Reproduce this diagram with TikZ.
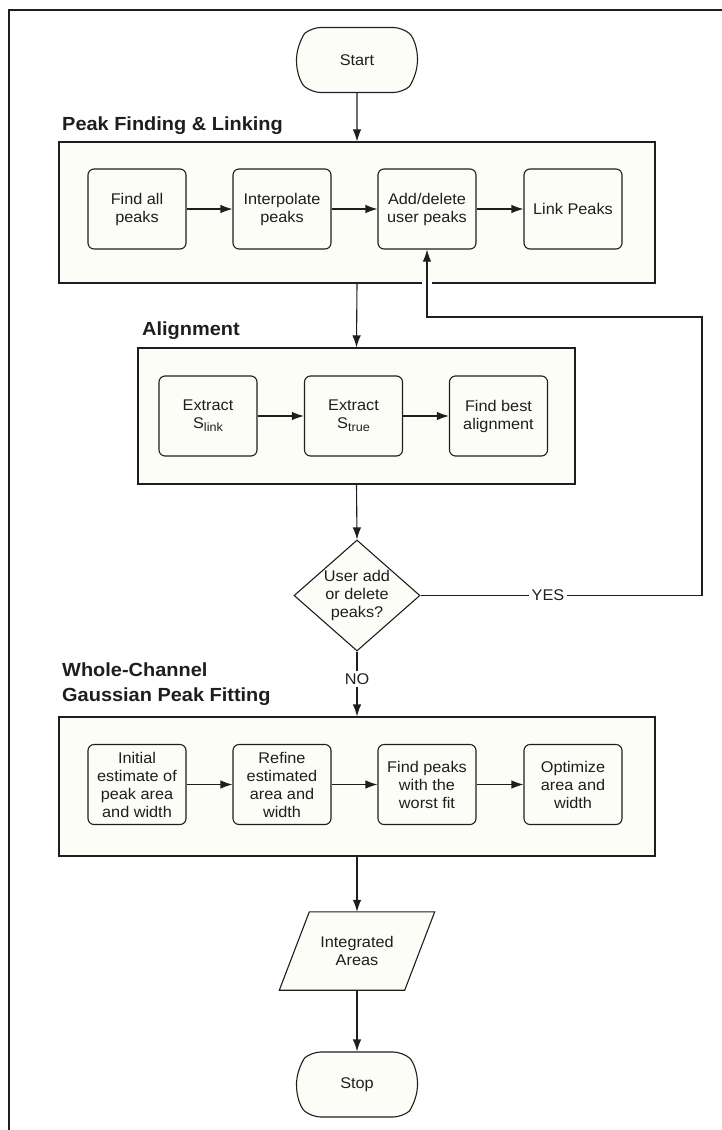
\documentclass[tikz,border=0pt]{standalone}
\usepackage{fontspec}
\setmainfont[FakeStretch=1.05]{Liberation Sans}
\usetikzlibrary{arrows.meta,shapes.geometric,shapes.misc,backgrounds}
\definecolor{cream}{RGB}{253,253,248}
\definecolor{ink}{RGB}{30,30,30}
\newcommand{\sbs}[1]{\raisebox{-0.4ex}{\fontsize{12}{12}\selectfont #1}}
\begin{document}
\begin{tikzpicture}[x=1pt,y=-1pt,
  every node/.style={font=\fontsize{15.5}{18}\selectfont, text=ink},
  grp/.style={draw=ink, fill=cream, line width=1.1pt, inner sep=0pt},
  proc/.style={draw=ink, fill=cream, line width=1.1pt, rounded corners=6pt,
    minimum width=98pt, minimum height=80pt, inner sep=0pt, align=center},
  term/.style={draw=ink, fill=cream, line width=1.1pt, rounded rectangle,
    rounded rectangle arc length=100, rounded corners=9pt,
    minimum width=121pt, minimum height=65pt, inner sep=0pt},
  dec/.style={draw=ink, fill=cream, line width=1.1pt, diamond, aspect=1.13,
    minimum width=126pt, minimum height=111pt, inner sep=0pt, align=center},
  iobox/.style={minimum width=125pt, minimum height=78pt, inner sep=0pt, align=center},
  ttl/.style={font=\bfseries\fontsize{19}{25}\selectfont, inner sep=0pt, align=left},
  lbl/.style={fill=white, inner sep=3pt},
  arr/.style={draw=ink, line width=1.1pt, -{Latex[length=12pt,width=8.5pt]}},
  ln/.style={draw=ink, line width=1.1pt}
]
\path[use as bounding box] (0,0) rectangle (721,1130);
\draw[ink, line width=1.8pt] (9,1135) -- (9,10) -- (725,10);

% titles
\node[ttl, anchor=base west] (t1) at (62,130) {Peak Finding \& Linking};
\node[ttl, anchor=base west] (t2) at (142,335) {Alignment};
\node[ttl, anchor=north west] (t3) at (62,663) {Whole-Channel\\Gaussian Peak Fitting};

% containers
\node[grp, minimum width=596pt, minimum height=141pt] (g1) at (357,212.5) {};
\node[grp, minimum width=437pt, minimum height=136pt] (g2) at (356.5,416) {};
\node[grp, minimum width=596pt, minimum height=139pt] (g3) at (357,786.5) {};

% terminals
\node[term] (start) at (357,60) {Start};
\node[term] (stop) at (357,1084.5) {Stop};

% row 1
\node[proc] (a1) at (137,209) {Find all\\peaks};
\node[proc] (a2) at (282,209) {Interpolate\\peaks};
\node[proc] (a3) at (427,209) {Add/delete\\user peaks};
\node[proc] (a4) at (573,209) {Link Peaks};

% row 2
\node[proc] (b1) at (208,416) {Extract\\S\sbs{link}};
\node[proc] (b2) at (353.5,416) {Extract\\S\sbs{true}};
\node[proc] (b3) at (498.5,416) {Find best\\alignment};

% decision
\node[dec] (dia) at (357,595.5) {User add\\or delete\\peaks?};

% row 3
\node[proc] (c1) at (137,784.5) {Initial\\estimate of\\peak area\\and width};
\node[proc] (c2) at (282,784.5) {Refine\\estimated\\area and\\width};
\node[proc] (c3) at (427,784.5) {Find peaks\\with the\\worst fit};
\node[proc] (c4) at (573,784.5) {Optimize\\area and\\width};

% output (parallelogram)
\node[iobox] (out) at (357,951) {Integrated\\Areas};
\begin{scope}[on background layer]
\draw[draw=ink, fill=cream, line width=1.1pt]
  ([xshift=15pt]out.north west) -- ([xshift=15pt]out.north east)
  -- ([xshift=-15pt]out.south east) -- ([xshift=-15pt]out.south west) -- cycle;
\end{scope}

% connectors
\draw[arr] (start) -- (g1);
\draw[arr] (a1) -- (a2);
\draw[arr] (a2) -- (a3);
\draw[arr] (a3) -- (a4);
\draw[arr] (g1.south) -- (g2.north);
\draw[arr] (b1) -- (b2);
\draw[arr] (b2) -- (b3);
\draw[arr] (g2.south) -- (dia.north);
\draw[arr] (dia.south) -- (g3.north);
\draw[arr] (c1) -- (c2);
\draw[arr] (c2) -- (c3);
\draw[arr] (c3) -- (c4);
\draw[arr] (g3.south) -- (out.north);
\draw[arr] (out.south) -- (stop.north);

\coordinate (k1) at (702,595.5);
\coordinate (k2) at (702,317);
\coordinate (k3) at (427,317);
\draw[white, line width=10pt] (427,279) -- (427,287);
\draw[arr] (dia.east) -- (k1) -- (k2) -- (k3) -- (a3.south);

\node[lbl] (yes) at (548,595.5) {YES};
\node[lbl] (no) at (357,679) {NO};
\end{tikzpicture}
\end{document}
